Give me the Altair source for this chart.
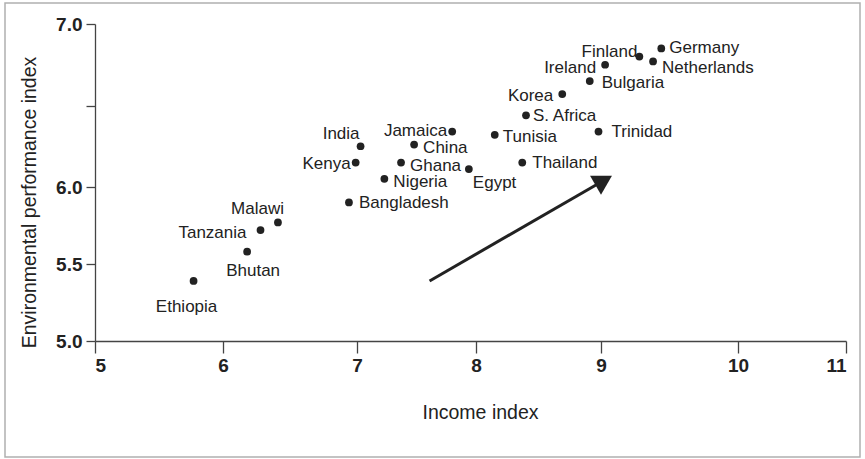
import altair as alt
import pandas as pd

# ---- data ----
countries = ["Germany", "Finland", "Netherlands", "Ireland", "Bulgaria", "Korea",
             "S. Africa", "Trinidad", "Thailand", "Jamaica", "India", "China",
             "Tunisia", "Kenya", "Ghana", "Egypt", "Nigeria", "Bangladesh",
             "Malawi", "Tanzania", "Bhutan", "Ethiopia"]
income = [9.44, 9.28, 9.38, 9.03, 8.91, 8.69,
          8.40, 8.98, 8.37, 7.80, 7.03, 7.48,
          8.15, 6.99, 7.37, 7.94, 7.23, 6.94,
          6.41, 6.28, 6.18, 5.77]
epi = [6.85, 6.80, 6.77, 6.75, 6.65, 6.57,
       6.44, 6.34, 6.15, 6.34, 6.25, 6.26,
       6.32, 6.15, 6.15, 6.11, 6.05, 5.90,
       5.77, 5.72, 5.58, 5.39]

# trend arrow (tail, head)
arrow_income = [7.61, 9.02]
arrow_epi = [5.39, 6.04]

x_ticks = [5, 6, 7, 8, 9, 10, 11]
y_ticks = [5.0, 5.5, 6.0, 6.5, 7.0]

# ---- label placement (style) ----
LABEL_PLACEMENT = {
    "Germany": ("left", 8, 0), "Finland": ("right", -2, -5),
    "Netherlands": ("left", 9, 7), "Ireland": ("right", -9, 3),
    "Bulgaria": ("left", 12, 2), "Korea": ("right", -9, 2),
    "S. Africa": ("left", 7, 1), "Trinidad": ("left", 13, 0),
    "Thailand": ("left", 10, 0), "Tunisia": ("left", 8, 2),
    "Jamaica": ("right", -5, -1), "India": ("right", -1, -12),
    "China": ("left", 9, 3), "Kenya": ("right", -5, 1),
    "Ghana": ("left", 9, 3), "Egypt": ("left", 4, 14),
    "Nigeria": ("left", 9, 3), "Bangladesh": ("left", 10, 1),
    "Malawi": ("right", 6, -13), "Tanzania": ("right", -14, 3),
    "Bhutan": ("center", 6, 19), "Ethiopia": ("center", -7, 26),
}

FONT = "Liberation Sans"
TICK_FONT = "Liberation Sans Narrow, Liberation Sans"
INK = "#222222"
W, H = 751, 317

df = pd.DataFrame({"country": countries, "income": income, "epi": epi})
arrow_df = pd.DataFrame({"income": [arrow_income[0]], "epi": [arrow_epi[0]],
                         "income2": [arrow_income[1]], "epi2": [arrow_epi[1]]})
head_df = pd.DataFrame({"income": [arrow_income[1]], "epi": [arrow_epi[1]]})

xscale = alt.Scale(domain=x_ticks, range=[0, 128, 262, 381, 506, 643, 751],
                   zero=False, nice=False)
yscale = alt.Scale(domain=[5.0, 5.5, 6.0, 7.0], range=[317, 240, 163, 0],
                   zero=False, nice=False)

x_enc = alt.X("income:Q", scale=xscale, axis=alt.Axis(
    values=x_ticks, format="d", title="Income index",
    titleX=385, titleY=71, titleBaseline="middle", titleAlign="center"))
y_enc = alt.Y("epi:Q", scale=yscale, axis=alt.Axis(
    values=y_ticks, labelExpr="datum.value == 6.5 ? '' : format(datum.value, '.1f')",
    title="Environmental performance index",
    titleX=-66, titleY=178, titleBaseline="middle", titleAlign="center", titleAngle=-90))

points = alt.Chart(df).mark_circle(size=60, color=INK, opacity=1).encode(x=x_enc, y=y_enc)

layers = [points]
groups = {}
for c in countries:
    groups.setdefault(LABEL_PLACEMENT[c], []).append(c)
for (align, dx, dy), names in groups.items():
    layers.append(
        alt.Chart(df).transform_filter(alt.FieldOneOfPredicate(field="country", oneOf=names))
        .mark_text(align=align, baseline="middle", dx=dx, dy=dy, font=FONT,
                   fontSize=17, color=INK)
        .encode(x=alt.X("income:Q", scale=xscale), y=alt.Y("epi:Q", scale=yscale),
                text="country:N")
    )

arrow_line = alt.Chart(arrow_df).mark_rule(color=INK, strokeWidth=3).encode(
    x=alt.X("income:Q", scale=xscale), y=alt.Y("epi:Q", scale=yscale),
    x2="income2:Q", y2="epi2:Q")
arrow_head = alt.Chart(head_df).mark_point(shape="triangle-up", size=480, angle=60,
                                           filled=True, color=INK, opacity=1).encode(
    x=alt.X("income:Q", scale=xscale), y=alt.Y("epi:Q", scale=yscale))
layers += [arrow_line, arrow_head]

frame = alt.Chart(pd.DataFrame({"k": [0]})).mark_rect(
    fill=None, stroke="#b0b0b0", strokeWidth=1.5).encode(
    x=alt.value(-90), x2=alt.value(765), y=alt.value(-21), y2=alt.value(433))
layers.append(frame)

chart = alt.layer(*layers).properties(
    width=W, height=H,
    padding={"left": 95, "top": 24, "right": 19, "bottom": 118},
    autosize=alt.AutoSizeParams(type="none"),
    background="white",
).configure_view(stroke=None).configure_axis(
    grid=False, domainColor="#444444", domainWidth=1.3, tickColor="#444444",
    tickWidth=1.3, labelFont=TICK_FONT, labelFontWeight="bold", labelFontSize=19,
    labelColor=INK, titleFont=FONT, titleFontWeight="normal", titleFontSize=19.5,
    titleColor=INK,
).configure_axisX(tickSize=12, labelPadding=3).configure_axisY(tickSize=9, labelPadding=4)

chart.save("out.html", embed_options={"renderer": "svg", "actions": False})
